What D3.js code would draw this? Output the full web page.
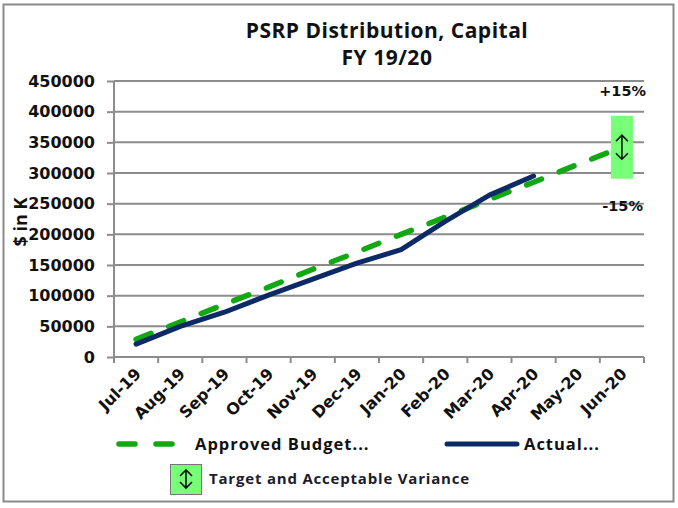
<!DOCTYPE html>
<html>
<head>
<meta charset="utf-8">
<script src="https://cdn.jsdelivr.net/npm/d3@7/dist/d3.min.js"></script>
<style>
  html, body { margin: 0; padding: 0; background: #fff; }
  svg { display: block; font-family: "Open Sans", sans-serif; }
</style>
</head>
<body>
<svg id="chart" width="678" height="508"></svg>
<script>
// chart data
const months = ['Jul-19', 'Aug-19', 'Sep-19', 'Oct-19', 'Nov-19', 'Dec-19',
  'Jan-20', 'Feb-20', 'Mar-20', 'Apr-20', 'May-20', 'Jun-20'];
const budget = [29000, 57000, 86000, 114000, 143000, 171000,
  200000, 228000, 257000, 285000, 314000, 342000];
const actual = [21000, 50000, 73000, 101000, 127000, 153000,
  175000, 221000, 264000, 295000];
const yTicks = [0, 50000, 100000, 150000, 200000, 250000, 300000, 350000, 400000, 450000];
const variance = { month: 'Jun-20', target: 342000, pct: 0.15 };

const svg = d3.select('#chart');
const GRID = '#8c8c8c';
const GREEN = '#12a812';
const NAVY = '#0c2a66';
const TICK_FONT = '"DejaVu Sans", Verdana, sans-serif';

// outer chart border
svg.append('rect')
  .attr('x', 3.5).attr('y', 4.5)
  .attr('width', 670).attr('height', 497)
  .attr('fill', '#fff')
  .attr('stroke', '#8a8a8a')
  .attr('stroke-width', 2);

const x = d3.scaleBand().domain(months).range([114, 644]);
const y = d3.scaleLinear().domain([0, 450000]).range([357, 81]);

// title
const title = svg.append('text')
  .attr('text-anchor', 'middle')
  .attr('font-weight', 'bold')
  .attr('font-size', 21)
  .attr('letter-spacing', 0.5)
  .attr('fill', '#111');
title.append('tspan').attr('x', 387).attr('y', 38).text('PSRP Distribution, Capital');
title.append('tspan').attr('x', 387).attr('y', 65).text('FY 19/20');

// horizontal gridlines
svg.append('g')
  .selectAll('line')
  .data(yTicks.filter(d => d > 0))
  .join('line')
  .attr('x1', 114).attr('x2', 644)
  .attr('y1', d => y(d)).attr('y2', d => y(d))
  .attr('stroke', GRID)
  .attr('stroke-width', 2);

// y axis
const yAxis = svg.append('g')
  .attr('transform', 'translate(114,0)')
  .call(d3.axisLeft(y).tickValues(yTicks).tickFormat(d3.format('d')).tickSize(7).tickPadding(12));
yAxis.select('.domain').attr('stroke', GRID).attr('stroke-width', 2).attr('d', `M0,${y(450000)}V${y(0)}`);
yAxis.selectAll('.tick line').attr('stroke', GRID).attr('stroke-width', 2);
yAxis.selectAll('.tick text')
  .attr('font-size', 16)
  .attr('font-weight', 'bold')
  .attr('font-family', TICK_FONT)
  .attr('fill', '#111');

// x axis with ticks at band edges
const xAxis = svg.append('g').attr('transform', `translate(0,${y(0)})`);
xAxis.append('line')
  .attr('x1', 114).attr('x2', 644)
  .attr('stroke', GRID).attr('stroke-width', 2);
const edges = months.map(m => x(m)).concat([x.range()[1]]);
xAxis.selectAll('line.tk')
  .data(edges)
  .join('line')
  .attr('class', 'tk')
  .attr('x1', d => d).attr('x2', d => d)
  .attr('y1', 0).attr('y2', 6)
  .attr('stroke', GRID).attr('stroke-width', 2);
xAxis.selectAll('text')
  .data(months)
  .join('text')
  .attr('transform', d => `translate(${x(d) + x.bandwidth() / 2 + 2},${14}) rotate(-45)`)
  .attr('text-anchor', 'end')
  .attr('dy', '0.35em')
  .attr('font-size', 16)
  .attr('font-weight', 'bold')
  .attr('font-family', TICK_FONT)
  .attr('fill', '#111')
  .text(d => d);

// y axis title
svg.append('text')
  .attr('transform', `translate(27,${222}) rotate(-90)`)
  .attr('text-anchor', 'middle')
  .attr('font-size', 18)
  .attr('font-weight', 'bold')
  .attr('fill', '#111')
  .text('$ in K');

const cx = d => x(d) + x.bandwidth() / 2;

// variance box around the final target
const vx = cx(variance.month);
svg.append('rect')
  .attr('x', vx - 11)
  .attr('width', 22)
  .attr('y', y(variance.target * (1 + variance.pct)))
  .attr('height', y(variance.target * (1 - variance.pct)) - y(variance.target * (1 + variance.pct)))
  .attr('fill', '#77ff77');

// lines
const line = d3.line().x((d, i) => cx(months[i])).y(d => y(d));
svg.append('path')
  .datum(budget)
  .attr('d', line)
  .attr('fill', 'none')
  .attr('stroke', GREEN)
  .attr('stroke-width', 5.5)
  .attr('stroke-linecap', 'round')
  .attr('stroke-dasharray', '16,19');
svg.append('path')
  .datum(actual)
  .attr('d', line)
  .attr('fill', 'none')
  .attr('stroke', NAVY)
  .attr('stroke-width', 5)
  .attr('stroke-linecap', 'round')
  .attr('stroke-linejoin', 'round');

// double-headed arrow marker
function arrow(g, ax, ay, h) {
  const hw = 6, hh = 6;
  g.append('path')
    .attr('d', `M${ax},${ay - h / 2}V${ay + h / 2}` +
      `M${ax - hw},${ay - h / 2 + hh}L${ax},${ay - h / 2}L${ax + hw},${ay - h / 2 + hh}` +
      `M${ax - hw},${ay + h / 2 - hh}L${ax},${ay + h / 2}L${ax + hw},${ay + h / 2 - hh}`)
    .attr('fill', 'none')
    .attr('stroke', '#111')
    .attr('stroke-width', 1.6);
}
arrow(svg, vx, y(variance.target), 24);

// +15% / -15% labels
svg.append('text')
  .attr('x', 646).attr('y', 96)
  .attr('text-anchor', 'end')
  .attr('font-family', TICK_FONT)
  .attr('font-size', 14.5).attr('font-weight', 'bold').attr('fill', '#111')
  .text('+15%');
svg.append('text')
  .attr('x', 643).attr('y', 211)
  .attr('text-anchor', 'end')
  .attr('font-family', TICK_FONT)
  .attr('font-size', 14.5).attr('font-weight', 'bold').attr('fill', '#111')
  .text('-15%');

// legend
const lg = svg.append('g')
  .attr('font-size', 16.5).attr('font-weight', 'bold')
  .attr('letter-spacing', 1).attr('fill', '#111');
lg.append('line')
  .attr('x1', 119).attr('x2', 176).attr('y1', 444).attr('y2', 444)
  .attr('stroke', GREEN).attr('stroke-width', 5.5)
  .attr('stroke-linecap', 'round').attr('stroke-dasharray', '16,21');
lg.append('text').attr('x', 195).attr('y', 450).text('Approved Budget...');
lg.append('line')
  .attr('x1', 447).attr('x2', 517).attr('y1', 444).attr('y2', 444)
  .attr('stroke', NAVY).attr('stroke-width', 5).attr('stroke-linecap', 'round');
lg.append('text').attr('x', 524).attr('y', 450).text('Actual...');
lg.append('rect')
  .attr('x', 170.5).attr('y', 464.5).attr('width', 31).attr('height', 30)
  .attr('fill', '#77ff77').attr('stroke', '#777').attr('stroke-width', 1);
arrow(lg, 186, 479, 18);
lg.append('text').attr('x', 209).attr('y', 484)
  .attr('font-size', 15).attr('letter-spacing', 0.8).attr('fill', '#1c1c2c')
  .text('Target and Acceptable Variance');
</script>
</body>
</html>
